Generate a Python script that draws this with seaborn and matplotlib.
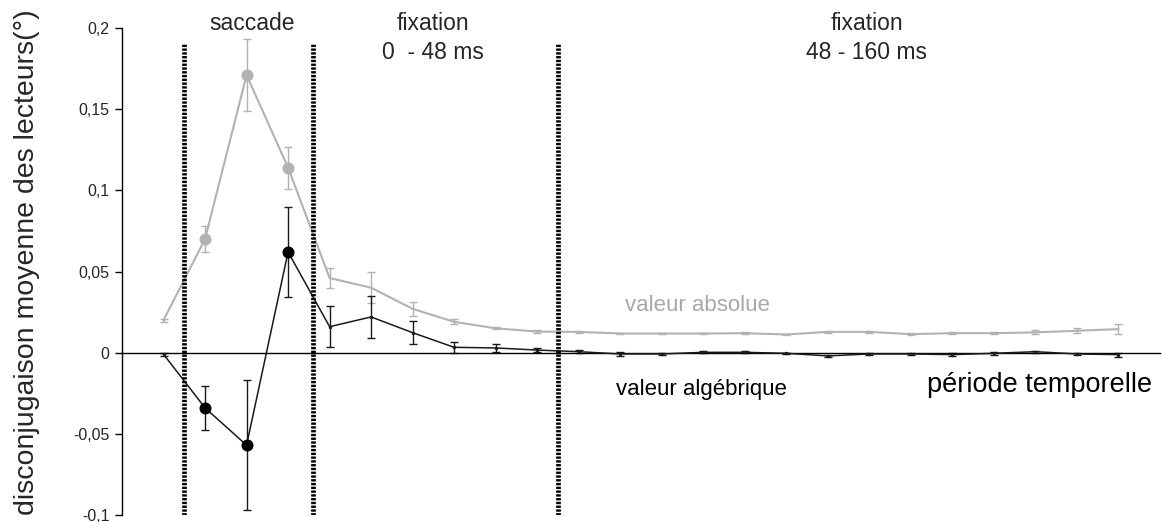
"""
Disconjugaison moyenne des lecteurs par periode temporelle
"""
import seaborn as sns
import matplotlib.pyplot as plt
from matplotlib.ticker import FuncFormatter

# periods along the time axis (24 bins)
periode = list(range(24))

# valeur absolue (gray) and its error bars
absolue = [0.020, 0.070, 0.171, 0.114, 0.046, 0.040, 0.027, 0.019, 0.015, 0.013,
           0.0128, 0.0118, 0.0118, 0.0118, 0.012, 0.0112, 0.0128, 0.0128, 0.0114,
           0.012, 0.012, 0.0125, 0.0135, 0.0145]
absolue_err = [0.001, 0.008, 0.022, 0.013, 0.0063, 0.0094, 0.0045, 0.0015, 0.0007,
               0.001, 0.0007, 0.0005, 0.0005, 0.0005, 0.0006, 0.0006, 0.0006, 0.0006,
               0.0006, 0.0007, 0.0008, 0.0012, 0.0016, 0.0029]

# valeur algebrique (black) and its error bars
algebrique = [-0.001, -0.034, -0.057, 0.062, 0.016, 0.022, 0.0123, 0.0033, 0.0029,
              0.0016, 0.0006, -0.0008, -0.0008, 0.0002, 0.0002, -0.0004, -0.002,
              -0.0008, -0.0008, -0.0012, -0.0004, 0.0006, -0.0008, -0.0012]
algebrique_err = [0.001, 0.0135, 0.040, 0.0275, 0.0125, 0.0128, 0.007, 0.0035,
                  0.0024, 0.0012, 0.0008, 0.0013, 0.0008, 0.0006, 0.0006, 0.0005,
                  0.0008, 0.0008, 0.0008, 0.001, 0.0008, 0.0006, 0.0008, 0.0012]

# periods drawn with a big round marker
gros_points = [1, 2, 3]

yticks = [-0.1, -0.05, 0, 0.05, 0.1, 0.15, 0.2]

GRIS = "#b2b2b2"
NOIR = "#1a1a1a"

sns.set_style("ticks")
plt.rcParams['font.family'] = ['Liberation Sans', 'DejaVu Sans']

fig = plt.figure(figsize=(11.62, 5.22), dpi=100)
ax = fig.add_axes([122 / 1162, 7 / 522, 1038 / 1162, 487 / 522])

# error bars
ax.errorbar(periode, absolue, yerr=absolue_err, fmt="none", ecolor=GRIS,
            elinewidth=1, capsize=3, capthick=1, zorder=2)
ax.errorbar(periode, algebrique, yerr=algebrique_err, fmt="none", ecolor=NOIR,
            elinewidth=1, capsize=3, capthick=1, zorder=2)

# lines
sns.lineplot(x=periode, y=absolue, color=GRIS, linewidth=1.5, sort=False, ax=ax, zorder=3)
sns.lineplot(x=periode, y=algebrique, color=NOIR, linewidth=1.1, sort=False, ax=ax,
             marker="o", markersize=2.5, markeredgewidth=0, zorder=3)

# big markers
sns.scatterplot(x=[periode[i] for i in gros_points], y=[absolue[i] for i in gros_points],
                color=GRIS, s=75, linewidth=0, ax=ax, zorder=4)
sns.scatterplot(x=[periode[i] for i in gros_points], y=[algebrique[i] for i in gros_points],
                color="black", s=75, linewidth=0, ax=ax, zorder=4)

# phase boundaries
ax.vlines([0.5, 3.6, 9.5], -0.1, 0.19, colors="black", linewidth=3.4,
          linestyles=(0, (0.5, 0.3)), zorder=5)

ax.set_xlim(-1, 24)
ax.set_ylim(-0.1, 0.2)
ax.set_yticks(yticks)
ax.yaxis.set_major_formatter(FuncFormatter(lambda v, p: f"{v:g}".replace(".", ",")))
ax.tick_params(axis="y", length=5, width=1, color="black", labelsize=11.5, pad=4)
ax.tick_params(axis="x", length=0, labelbottom=False)

ax.spines["top"].set_visible(False)
ax.spines["right"].set_visible(False)
ax.spines["bottom"].set_position(("data", 0))
for s in ("left", "bottom"):
    ax.spines[s].set_color("black")
    ax.spines[s].set_linewidth(1)

ax.set_ylabel("disconjugaison moyenne des lecteurs(°)", fontsize=20.5)
ax.yaxis.set_label_coords(-0.079, 0.52)

# annotations
ax.text(2.14, 0.203, "saccade", ha="center", va="center", fontsize=16.5, clip_on=False)
ax.text(6.48, 0.203, "fixation", ha="center", va="center", fontsize=16.5, clip_on=False)
ax.text(6.48, 0.1847, "0  - 48 ms", ha="center", va="center", fontsize=16.5)
ax.text(16.94, 0.203, "fixation", ha="center", va="center", fontsize=16.5, clip_on=False)
ax.text(16.94, 0.1847, "48 - 160 ms", ha="center", va="center", fontsize=16.5)
ax.text(12.87, 0.0288, "valeur absolue", ha="center", va="center", fontsize=16, color="#a8a8a8")
ax.text(12.96, -0.0227, "valeur algébrique", ha="center", va="center", fontsize=16, color="black")
ax.text(21.1, -0.020, "période temporelle", ha="center", va="center", fontsize=19.5, color="black")

fig.savefig("out.png", dpi=100)
